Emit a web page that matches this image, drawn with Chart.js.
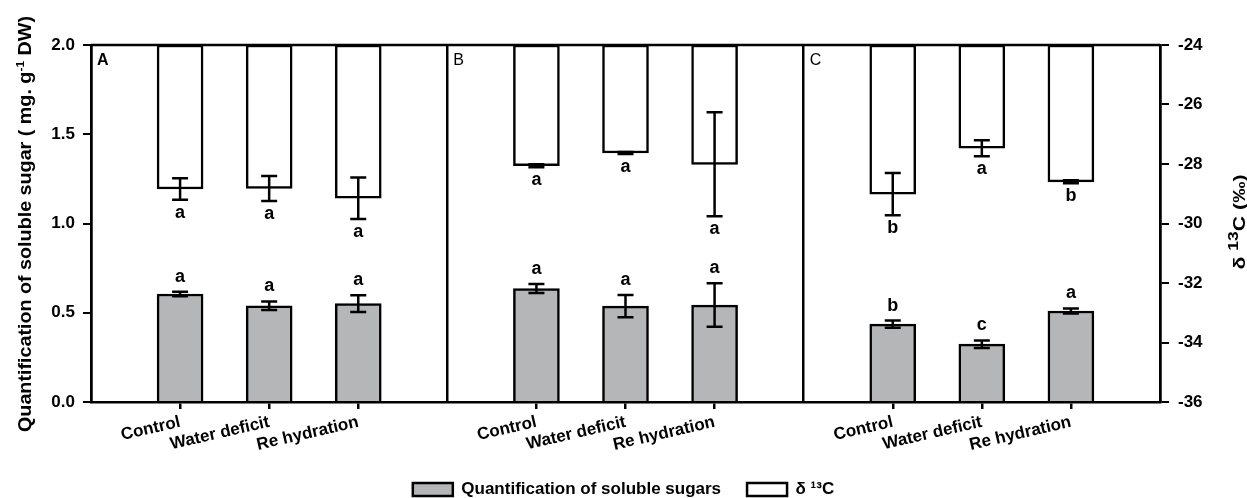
<!DOCTYPE html>
<html>
<head>
<meta charset="utf-8">
<script src="https://cdn.jsdelivr.net/npm/chart.js@4.4.1/dist/chart.umd.min.js"></script>
<style>
  html, body { margin: 0; padding: 0; background: #fff; }
  #wrap { width: 1247px; height: 498px; }
</style>
</head>
<body>
<div id="wrap"><canvas id="myChart"></canvas></div>
<script>
const panels = ["A", "B", "C"];
const treatments = ["Control", "Water deficit", "Re hydration"];

// soluble sugars (left axis), per panel A, B, C x treatments
const sugar = [0.605, 0.539, 0.551, 0.636, 0.537, 0.543, 0.436, 0.324, 0.510];
const sugarErr = [0.012, 0.024, 0.047, 0.025, 0.062, 0.122, 0.020, 0.021, 0.014];
const sugarLetters = ["a", "a", "a", "a", "a", "a", "b", "c", "a"];

// delta 13C (right axis), bars hang from -24
const d13C = [-28.84, -28.82, -29.15, -28.06, -27.63, -28.01, -29.01, -27.47, -28.60];
const d13CErr = [0.36, 0.42, 0.70, 0.05, 0.03, 1.75, 0.71, 0.27, 0.05];
const d13CLetters = ["a", "a", "a", "a", "a", "a", "b", "a", "b"];

const FONT = "'Liberation Sans', Arial, sans-serif";
const LEGEND_SHIFT = 10;

// slots: '' C W R '' C W R '' C W R ''
const labels = [""];
panels.forEach(() => { treatments.forEach(t => labels.push(t)); labels.push(""); });
const slotOf = i => Math.floor(i / 3) * 4 + (i % 3) + 1;
const toSlots = (arr, fill) => {
    const out = labels.map(() => fill);
    arr.forEach((v, i) => { out[slotOf(i)] = v; });
    return out;
};

const sugarSlots = toSlots(sugar, null);
const d13CSlots = toSlots(d13C.map(v => [-24, v]), null);

const drawErr = (ctx, x, yt, yb) => {
    ctx.beginPath();
    ctx.moveTo(x, yt); ctx.lineTo(x, yb);
    ctx.moveTo(x - 8, yt); ctx.lineTo(x + 8, yt);
    ctx.moveTo(x - 8, yb); ctx.lineTo(x + 8, yb);
    ctx.stroke();
};

const decorations = {
    id: "decorations",
    afterDatasetsDraw(chart) {
        const { ctx, chartArea, scales } = chart;
        ctx.save();
        ctx.strokeStyle = "#000";
        ctx.lineWidth = 2.5;
        ctx.beginPath();
        ctx.moveTo(chartArea.left, chartArea.top);
        ctx.lineTo(chartArea.right, chartArea.top);
        ctx.stroke();

        ctx.fillStyle = "#000";
        ctx.textAlign = "center";
        ctx.textBaseline = "middle";
        ctx.font = "bold 18px " + FONT;

        const m0 = chart.getDatasetMeta(0);
        const m1 = chart.getDatasetMeta(1);
        sugar.forEach((v, i) => {
            const x = m0.data[slotOf(i)].x;
            const yt = scales.y.getPixelForValue(v + sugarErr[i]);
            const yb = scales.y.getPixelForValue(v - sugarErr[i]);
            drawErr(ctx, x, yt, yb);
            ctx.fillText(sugarLetters[i], x, yt - 15);
        });
        d13C.forEach((v, i) => {
            const x = m1.data[slotOf(i)].x;
            const yt = scales.y2.getPixelForValue(v + d13CErr[i]);
            const yb = scales.y2.getPixelForValue(v - d13CErr[i]);
            drawErr(ctx, x, yt, yb);
            ctx.fillText(d13CLetters[i], x, yb + 13);
        });

        // panel letters
        ctx.textAlign = "left";
        panels.forEach((p, k) => {
            ctx.font = (k === 0 ? "bold " : "") + "16px " + FONT;
            ctx.fillText(p, scales.x.getPixelForValue(k * 4) + 6, chartArea.top + 16);
        });
        ctx.restore();
    },
    afterDraw(chart) {
        const { ctx } = chart;
        // rotated title, stretched along its length to span `len` px
        const drawRotated = (parts, x, cy, size, supSize, len) => {
            ctx.save();
            ctx.translate(x, cy);
            ctx.rotate(-Math.PI / 2);
            ctx.fillStyle = "#000";
            ctx.textBaseline = "alphabetic";
            ctx.textAlign = "left";
            let total = 0;
            parts.forEach(p => {
                ctx.font = "bold " + (p.sup ? supSize : size) + "px " + FONT;
                total += ctx.measureText(p.t).width;
            });
            ctx.scale(len / total, 1);
            let px = -total / 2;
            parts.forEach(p => {
                ctx.font = "bold " + (p.sup ? supSize : size) + "px " + FONT;
                ctx.fillText(p.t, px, p.sup ? -7 : 0);
                px += ctx.measureText(p.t).width;
            });
            ctx.restore();
        };
        drawRotated([
            { t: "Quantification of soluble sugar ( mg. g" },
            { t: "-1", sup: true },
            { t: " DW)" }
        ], 31, 224, 18, 11, 416);
        drawRotated([
            { t: "\u03b4 " },
            { t: "13", sup: true },
            { t: "C (\u2030)" }
        ], 1245, 222, 17, 14, 95);
    }
};

new Chart(document.getElementById("myChart").getContext("2d"), {
    type: "bar",
    data: {
        labels: labels,
        datasets: [
            {
                label: "Quantification of soluble sugars",
                data: sugarSlots,
                yAxisID: "y",
                backgroundColor: "#b4b6b7",
                borderColor: "#000",
                borderWidth: 2.5,
                barThickness: 46,
                grouped: false
            },
            {
                label: "\u03b4 \u00b9\u00b3C",
                data: d13CSlots,
                yAxisID: "y2",
                backgroundColor: "#fff",
                borderColor: "#000",
                borderWidth: 2.5,
                borderSkipped: false,
                barThickness: 46,
                grouped: false
            }
        ]
    },
    options: {
        responsive: true,
        maintainAspectRatio: false,
        animation: false,
        layout: { padding: { top: 45, left: 0, right: 0, bottom: -LEGEND_SHIFT } },
        plugins: {
            legend: {
                position: "bottom",
                labels: {
                    color: "#000",
                    font: { family: FONT, size: 17, weight: "bold" },
                    boxWidth: 40,
                    boxHeight: 13,
                    padding: 26
                }
            },
            tooltip: { enabled: false }
        },
        scales: {
            x: {
                type: "category",
                offset: false,
                border: { color: "#000", width: 2.5 },
                grid: {
                    offset: false,
                    drawOnChartArea: true,
                    color: c => (c.index % 4 === 0 ? "#000" : "rgba(0,0,0,0)"),
                    lineWidth: 2.5,
                    tickColor: c => (c.index % 4 === 0 ? "rgba(0,0,0,0)" : "#000"),
                    tickLength: 7,
                    tickWidth: 2.5
                },
                ticks: {
                    color: "#000",
                    font: { family: FONT, size: 17, weight: "bold" },
                    autoSkip: false,
                    minRotation: 13,
                    maxRotation: 13,
                    padding: 3
                },
                afterFit(scale) {
                    const lh = scale.chart.legend ? scale.chart.legend.height : 30;
                    scale.height = 498 + LEGEND_SHIFT - 402 - lh;
                }
            },
            y: {
                position: "left",
                min: 0,
                max: 2,
                border: { color: "#000", width: 2.5 },
                grid: { drawOnChartArea: false, color: "#000", tickLength: 8, lineWidth: 2 },
                ticks: {
                    stepSize: 0.5,
                    color: "#000",
                    padding: 8,
                    font: { family: FONT, size: 17, weight: "bold" },
                    callback: v => v.toFixed(1)
                },
                afterFit(scale) { scale.width = 91; }
            },
            y2: {
                position: "right",
                min: -36,
                max: -24,
                border: { color: "#000", width: 2.5 },
                grid: { drawOnChartArea: false, color: "#000", tickLength: 9, lineWidth: 2 },
                ticks: {
                    stepSize: 2,
                    color: "#000",
                    padding: 9,
                    font: { family: FONT, size: 17, weight: "bold" }
                },
                afterFit(scale) { scale.width = 1247 - 1160; }
            }
        }
    },
    plugins: [decorations]
});
</script>
</body>
</html>
